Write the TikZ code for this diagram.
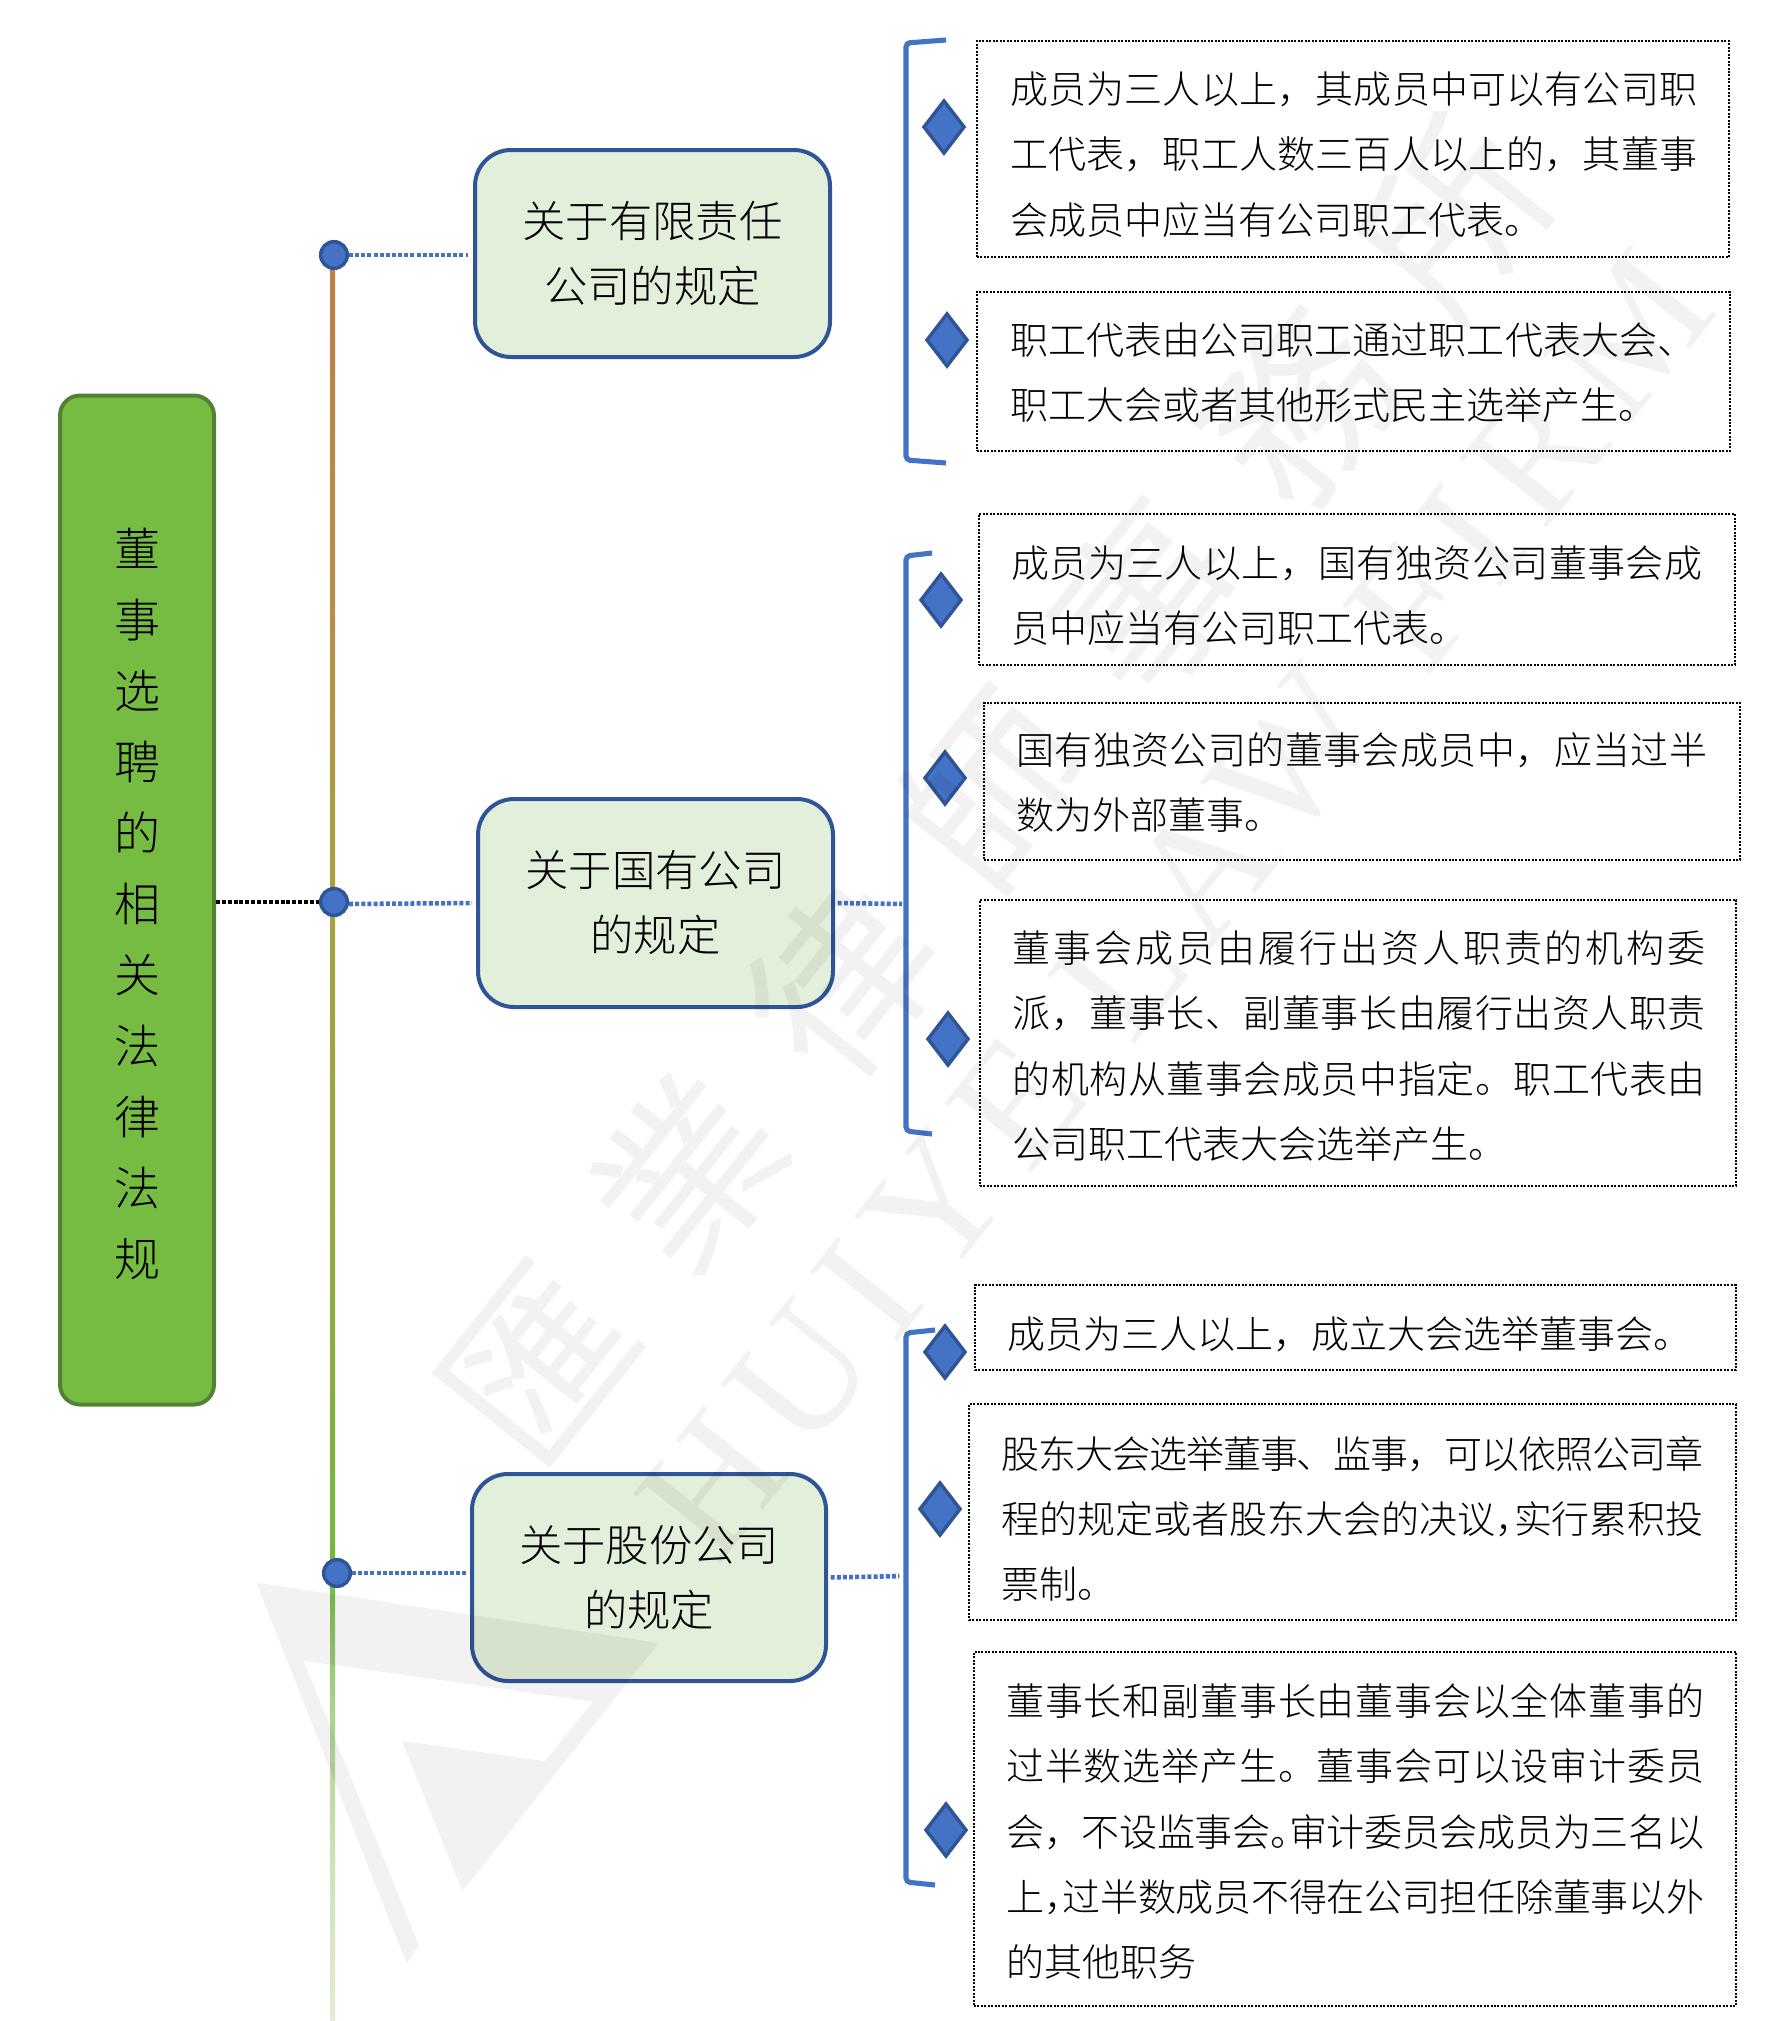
\documentclass[tikz,border=0pt]{standalone}
\usepackage{fontspec}
\setmainfont[UprightFont={* Light}]{Noto Sans CJK SC}
\newfontfamily\wmcjk[LetterSpace=36]{Noto Sans CJK TC}
\newfontfamily\wmlat[LetterSpace=11]{Liberation Serif}

% colour palette
\definecolor{linkblue}{HTML}{4472C4}
\definecolor{edgeblue}{HTML}{2F5597}
\definecolor{rootgreen}{HTML}{76BC43}
\definecolor{rootedge}{HTML}{548235}
\definecolor{palegreen}{HTML}{E2EFDA}

% trunk colour, running from the foot (25bp) to the head (75bp) of the line
\pgfdeclareverticalshading{trunkfade}{100bp}{
  rgb(0bp)=(0.89,0.93,0.83);
  rgb(25bp)=(0.89,0.93,0.83);
  rgb(29.8bp)=(0.80,0.88,0.72);
  rgb(34bp)=(0.66,0.82,0.55);
  rgb(37.8bp)=(0.46,0.72,0.25);
  rgb(47bp)=(0.58,0.66,0.25);
  rgb(56.7bp)=(0.66,0.63,0.27);
  rgb(75bp)=(0.75,0.49,0.28);
  rgb(100bp)=(0.75,0.49,0.28)}

% one justified text line: #1 is its width in pixels, #2 its characters
\makeatletter
\def\spread@first#1{#1\spread@next}
\def\spread@next#1{\ifx#1\relax\else\hskip 0pt plus 1fil minus 1fil\relax#1\expandafter\spread@next\fi}
\newcommand\jline[2]{\hbox to #1\dimexpr.75pt\relax{\spread@first#2\relax}}
\makeatother
% half-width punctuation for lines that carry one extra character
\newcommand\hcomma{\makebox[.5em][l]{，}}
\newcommand\hstop{\makebox[.5em][l]{。}}

\tikzset{
  rootbox/.style={draw=rootedge,fill=rootgreen,line width=3pt,rounded corners=15pt,inner sep=0pt},
  topicbox/.style={draw=edgeblue,fill=palegreen,line width=3pt,rounded corners=27pt,inner sep=0pt,
    align=center,font=\fontsize{32.5}{48.75}\selectfont},
  notebox/.style={draw=black,line width=1.5pt,dash pattern=on 1.5pt off 1.1pt,inner sep=0pt},
  notetext/.style={anchor=west,inner sep=0pt,align=left,font=\fontsize{28.5}{48.9}\selectfont},
  roottext/.style={inner sep=0pt,align=center,font=\fontsize{34.5}{53.25}\selectfont},
  hub/.style={circle,draw=edgeblue,fill=linkblue,line width=2.6pt,minimum size=20pt,inner sep=0pt},
  gem/.style={draw=edgeblue,fill=linkblue,line width=2.6pt},
  bracketline/.style={draw=linkblue,line width=3.8pt,rounded corners=3pt},
  bluelink/.style={draw=linkblue,line width=3.4pt,dash pattern=on 3pt off 1.6pt},
  blacklink/.style={draw=black,line width=2.8pt,dash pattern=on 3pt off 1.4pt},
  mark text/.style={text=black,text opacity=.05,inner sep=0pt,rotate=51.4}
}

% dotted note box given by its corner coordinates
\newcommand\notepanel[5]{%
  \node[notebox,minimum width={(#4-#2)*.75pt},minimum height={(#5-#3)*.75pt}]
    (#1) at ({(#2+#4)/2},{(#3+#5)/2}) {};}
% rounded topic box given by its corner coordinates
\newcommand\topicpanel[6]{%
  \node[topicbox,minimum width={(#4-#2)*.75pt},minimum height={(#5-#3)*.75pt}]
    (#1) at ({(#2+#4)/2},{(#3+#5)/2}) {#6};}
% diamond marker given by its centre
\newcommand\gemat[3]{%
  \path[gem] (#2-20,#3) -- (#2,#3-26) -- (#2+20,#3) -- (#2,#3+26) -- cycle;
  \coordinate (#1) at (#2,#3);}

\begin{document}
\begin{tikzpicture}[x=.75pt,y=-.75pt]
\useasboundingbox (0,0) rectangle (1787,2021);
\fill[white] (0,0) rectangle (1787,2021);

% main trunk
\shade[shading=trunkfade] (330,255) rectangle (335,2021);

% hubs on the trunk
\node[hub] (hubA) at (334,255) {};
\node[hub] (hubB) at (334,902) {};
\node[hub] (hubC) at (337,1573) {};

% root label
\node[rootbox,minimum width={154*.75pt},minimum height={1009*.75pt}] (root) at (137,900) {};
\node[roottext] (rootlabel) at (137,904) {董\\事\\选\\聘\\的\\相\\关\\法\\律\\法\\规};

% topics
\topicpanel{topicA}{475}{150}{830}{357}{关于有限责任\\公司的规定}
\topicpanel{topicB}{478}{799}{833}{1007}{关于国有公司\\的规定}
\topicpanel{topicC}{472}{1474}{826}{1681}{关于股份公司\\的规定}

% brackets with the anchors for the links that reach them
\draw[bracketline] (946,40) -- (906,43) -- (906,460) -- (946,463);
\draw[bracketline] (932,553) -- (906,556) -- (906,1131) -- (932,1134);
\draw[bracketline] (935,1330) -- (906,1333) -- (906,1882) -- (935,1885);
\coordinate (bracketB) at (906,904);
\coordinate (bracketC) at (906,1576);

% connectors
\draw[blacklink] (root.east |- hubB) -- (hubB.west);
\draw[bluelink,shorten >=3.5pt] (hubA.east) -- (hubA.east -| topicA.west);
\draw[bluelink,shorten >=3pt] (hubB.east) ++(0,2) -- (topicB.west);
\draw[bluelink,shorten >=3pt] (hubC.east) -- (hubC.east -| topicC.west);
\draw[bluelink,shorten >=3pt,shorten <=2pt] (topicB.east) -- (bracketB);
\draw[bluelink,shorten >=5pt,shorten <=2pt] (topicC.east) -- (bracketC);

% diamond markers
\gemat{gemA}{944}{127}
\gemat{gemB}{947}{340}
\gemat{gemC}{941}{600}
\gemat{gemD}{945}{778}
\gemat{gemE}{948}{1039}
\gemat{gemF}{945}{1352}
\gemat{gemG}{940}{1509}
\gemat{gemH}{946}{1830}

% note boxes
\notepanel{noteA}{977}{41}{1729}{257}
\notepanel{noteB}{977}{292}{1730}{451}
\notepanel{noteC}{979}{514}{1735}{665}
\notepanel{noteD}{984}{703}{1740}{860}
\notepanel{noteE}{980}{900}{1736}{1186}
\notepanel{noteF}{975}{1285}{1736}{1370}
\notepanel{noteG}{969}{1404}{1736}{1620}
\notepanel{noteH}{974}{1652}{1736}{2006}

% note texts
\node[notetext] (textA) at (1010,154.5) {%
  \jline{687}{成员为三人以上，其成员中可以有公司职}\\
  \jline{687}{工代表，职工人数三百人以上的，其董事}\\
  会成员中应当有公司职工代表。};
\node[notetext] (textB) at (1010,373) {%
  \jline{685}{职工代表由公司职工通过职工代表大会、}\\
  职工大会或者其他形式民主选举产生。};
\node[notetext] (textC) at (1011,595.5) {%
  \jline{691}{成员为三人以上，国有独资公司董事会成}\\
  员中应当有公司职工代表。};
\node[notetext] (textD) at (1016,782.5) {%
  \jline{691}{国有独资公司的董事会成员中，应当过半}\\
  数为外部董事。};
\node[notetext] (textE) at (1012.5,1046) {%
  \jline{693}{董事会成员由履行出资人职责的机构委}\\
  \jline{693}{派，董事长、副董事长由履行出资人职责}\\
  \jline{693}{的机构从董事会成员中指定。职工代表由}\\
  公司职工代表大会选举产生。};
\node[notetext] (textF) at (1007,1334.5) {成员为三人以上，成立大会选举董事会。};
\node[notetext] (textG) at (1001.5,1519) {%
  \jline{702}{股东大会选举董事、监事，可以依照公司章}\\
  \jline{702}{程的规定或者股东大会的决议\hcomma 实行累积投}\\
  票制。};
\node[notetext] (textH) at (1006,1831.5) {%
  \jline{698}{董事长和副董事长由董事会以全体董事的}\\
  \jline{698}{过半数选举产生。董事会可以设审计委员}\\
  \jline{698}{会，不设监事会\hstop 审计委员会成员为三名以}\\
  \jline{698}{上\hcomma 过半数成员不得在公司担任除董事以外}\\
  的其他职务};

% faint firm mark across the sheet
\fill[black,opacity=.05] (256.4,1582.7) -- (658.7,1642.9) -- (462.4,1891.3) -- (401.8,1740.8)
  -- (544.8,1761.2) -- (593.2,1701.5) -- (303.4,1660.7) -- (418.7,1944.9) -- (406.6,1963.8) -- cycle;
\node[mark text,font=\wmcjk\fontsize{135}{135}\selectfont] (markzh) at (995,790) {匯業律師事務所};
\node[mark text,font=\wmlat\fontsize{127.5}{127.5}\selectfont] (markla) at (1176,905) {HUIYE LAW FIRM};
\end{tikzpicture}
\end{document}
